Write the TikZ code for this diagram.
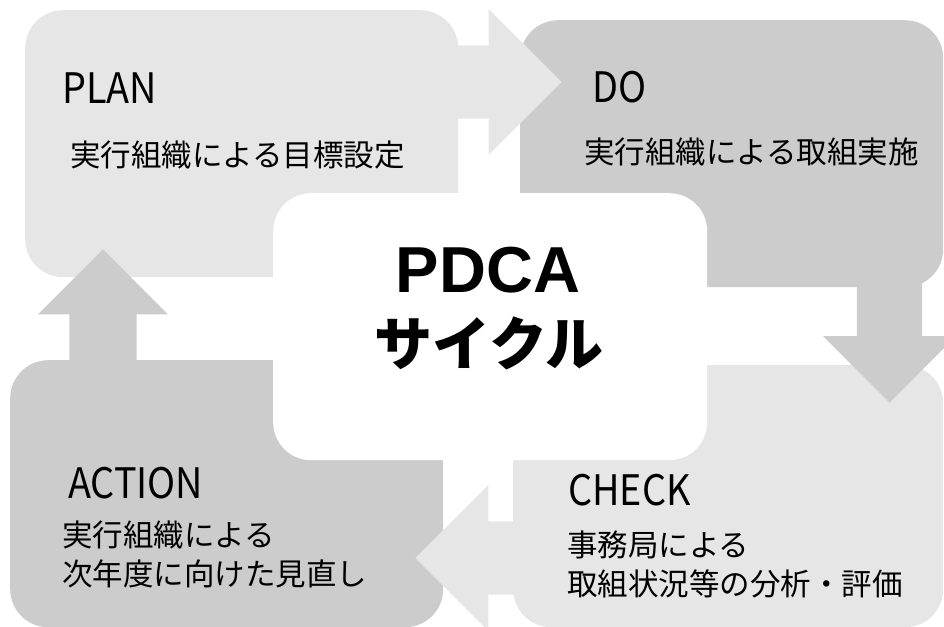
\documentclass[tikz,border=0pt]{standalone}
\usepackage{fontspec}
\setmainfont{Noto Sans CJK JP}
\newfontfamily\pdcafont{Liberation Sans}
\usetikzlibrary{shapes.arrows,positioning}
\definecolor{boxlight}{HTML}{E6E6E6}
\definecolor{boxdark}{HTML}{CCCCCC}
\tikzset{
  panel/.style = {anchor=north west, inner sep=0pt, rounded corners=38pt},
  lightpanel/.style = {panel, fill=boxlight},
  darkpanel/.style = {panel, fill=boxdark},
  cyclearrow/.style = {single arrow, anchor=tip, inner sep=0pt, minimum height=130pt, single arrow head indent=0pt},
  lightarrow/.style = {cyclearrow, fill=boxlight},
  darkarrow/.style = {cyclearrow, fill=boxdark},
  steptitle/.style = {anchor=base west, inner sep=0pt, xscale=0.9, font=\fontsize{42}{42}\selectfont},
  steptext/.style = {anchor=base west, inner sep=0pt, font=\fontsize{30.5}{30.5}\selectfont}
}

\begin{document}
\begin{tikzpicture}[x=1pt,y=-1pt]
		\useasboundingbox (0,0) rectangle (944,626);
		\clip (0,0) rectangle (944,626);

		% the four steps and the arrows between them
		\node [lightpanel, minimum width=433pt, minimum height=267pt] (plan) at (25,10) {};
		\node [darkpanel, minimum width=423pt, minimum height=267pt] (do) at (520,20) {};
		\node [lightarrow, inner ysep=36.5pt, single arrow head extend=36.5pt] (plantodo) at (562,82) {};
		\node [lightpanel, minimum width=430pt, minimum height=262pt] (check) at (513,365) {};
		\node [darkarrow, shape border rotate=270, inner xsep=32.5pt, single arrow head extend=34pt] (dotocheck) at (889.5,403) {};
		\node [darkpanel, minimum width=433pt, minimum height=267pt] (action) at (10,360) {};
		\node [lightarrow, shape border rotate=180, inner ysep=36.5pt, single arrow head extend=36.5pt] (checktoaction) at (415,558) {};
		\node [darkarrow, shape border rotate=90, inner xsep=33.5pt, single arrow head extend=31.5pt] (actiontoplan) at (103,249) {};
		\node [panel, fill=white, minimum width=434pt, minimum height=267pt] (cycle) at (273,193) {};

		% texts
		\node [steptitle] (plantitle) at (62,103) {PLAN};
		\node [steptext] (plantext) at (70,166) {実行組織による目標設定};
		\node [steptitle] (dotitle) at (592,102) {DO};
		\node [steptext] (dotext) at (584,163) {実行組織による取組実施};
		\node [steptitle] (checktitle) at (568,505) {CHECK};
		\node [steptext] (checktext) at (567,556) {事務局による};
		\node [steptext, below=39pt of checktext.base west, anchor=base west] (checktextb) {取組状況等の分析・評価};
		\node [steptitle] (actiontitle) at (68,498) {ACTION};
		\node [steptext] (actiontext) at (62,546) {実行組織による};
		\node [steptext, below=39pt of actiontext.base west, anchor=base west] (actiontextb) {次年度に向けた見直し};

		\node [anchor=base, inner sep=0pt, font=\pdcafont\bfseries\fontsize{65}{65}\selectfont] (pdca) at (488,292) {PDCA};
		\node [anchor=base, inner sep=0pt, font=\bfseries\fontsize{58}{58}\selectfont] (pdcakana) at (489,365) {サイクル};
\end{tikzpicture}
\end{document}
